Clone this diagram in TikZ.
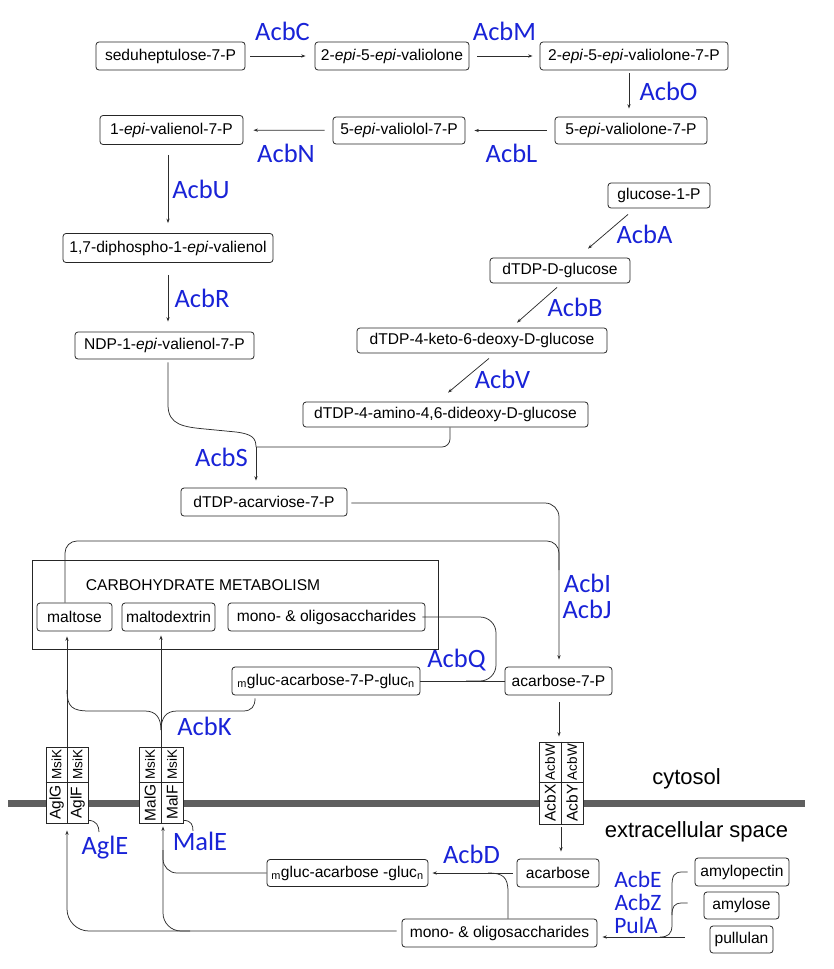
\documentclass[tikz,border=0pt]{standalone}
\usepackage{fontspec}
\setmainfont{Liberation Sans}
\newfontfamily\labfont{Carlito}
\usetikzlibrary{arrows.meta,calc}
\definecolor{enz}{RGB}{25,35,215}
\definecolor{ln}{RGB}{45,45,45}
\definecolor{memb}{RGB}{95,95,95}
\begin{document}
\begin{tikzpicture}[x=1pt,y=-1pt,
  box/.style={draw=black!85, line width=0.8pt, rounded corners=3pt, minimum height=28pt, inner sep=0pt, fill=white, font=\fontsize{15.6}{18}\selectfont},
  conn/.style={draw=ln, line width=0.75pt},
  arr/.style={conn, -{Stealth[length=4.5pt,width=3.2pt]}},
  enzl/.style={anchor=base, text=enz, inner sep=0pt, font=\labfont\fontsize{26.5}{30}\selectfont},
  tbox/.style={draw=black!85, line width=0.8pt, fill=white, inner sep=0pt},
  tsmall/.style={rotate=90, inner sep=0pt, font=\fontsize{13.5}{15}\selectfont},
  tbig/.style={rotate=90, inner sep=0pt, font=\fontsize{15.5}{17}\selectfont},
  cellline/.style={draw=black!85, line width=0.8pt},
  region/.style={anchor=base, inner sep=0pt, font=\fontsize{22}{26}\selectfont},
]
\useasboundingbox (0,0) rectangle (833,969);

% ---------- carbohydrate metabolism frame ----------
\node[draw=black!85, line width=0.8pt, minimum width=406pt, minimum height=89pt, inner sep=0pt] (carbo) at (235,604.5) {};
\node[anchor=base, inner sep=0pt, font=\fontsize{15.6}{18}\selectfont] (carbot) at (203,590) {CARBOHYDRATE METABOLISM};

% ---------- nodes ----------
\node[box, minimum width=149pt] (sedu) at (170.5,56) {seduheptulose-7-P};
\node[box, minimum width=154pt] (v1) at (392,56) {2-\textit{epi}-5-\textit{epi}-valiolone};
\node[box, minimum width=188pt] (v2) at (634,56) {2-\textit{epi}-5-\textit{epi}-valiolone-7-P};
\node[box, minimum width=152pt, minimum height=27pt] (v3) at (631,130.5) {5-\textit{epi}-valiolone-7-P};
\node[box, minimum width=132pt, minimum height=27pt] (v4) at (399,130.5) {5-\textit{epi}-valiolol-7-P};
\node[box, minimum width=143pt, minimum height=29pt] (v5) at (171.5,130) {1-\textit{epi}-valienol-7-P};
\node[box, minimum width=210pt, minimum height=29pt] (v6) at (168,248) {1,7-diphospho-1-\textit{epi}-valienol};
\node[box, minimum width=179pt, minimum height=27pt] (v7) at (164.5,345.5) {NDP-1-\textit{epi}-valienol-7-P};
\node[box, minimum width=102pt, minimum height=25pt] (g1) at (659,195.5) {glucose-1-P};
\node[box, minimum width=140pt, minimum height=25pt] (g2) at (560,270.5) {dTDP-D-glucose};
\node[box, minimum width=250pt, minimum height=25pt] (g3) at (482,340.5) {dTDP-4-keto-6-deoxy-D-glucose};
\node[box, minimum width=285pt, minimum height=25pt] (g4) at (445.5,414.5) {dTDP-4-amino-4,6-dideoxy-D-glucose};
\node[box, minimum width=166pt] (acv) at (264,502) {dTDP-acarviose-7-P};
\node[box, minimum width=75pt] (malt) at (74.5,617) {maltose};
\node[box, minimum width=93pt] (mdex) at (168.5,617) {maltodextrin};
\node[box, minimum width=197pt] (mono1) at (326.5,617) {mono- \& oligosaccharides};
\node[box, minimum width=188pt] (gacp) at (326,681) {\textsubscript{m}gluc-acarbose-7-P-gluc\textsubscript{n}};
\node[box, minimum width=107pt] (a7p) at (558.5,681) {acarbose-7-P};
\node[box, minimum width=82pt] (acb) at (558,873) {acarbose};
\node[box, minimum width=161pt, minimum height=27pt] (gac) at (347.5,873) {\textsubscript{m}gluc-acarbose -gluc\textsubscript{n}};
\node[box, minimum width=195pt] (mono2) at (499.5,933) {mono- \& oligosaccharides};
\node[box, minimum width=94pt] (amyp) at (742,872) {amylopectin};
\node[box, minimum width=75pt, minimum height=27pt] (amyl) at (741.5,905.5) {amylose};
\node[box, minimum width=63pt, minimum height=27pt] (pull) at (741.5,939.5) {pullulan};

% ---------- membrane and transporters ----------
\draw[memb, line width=7pt] (8,803) -- (805,803);
\node[tbox, minimum width=42pt, minimum height=76pt] (t1) at (67,785) {};
\node[tbox, minimum width=44pt, minimum height=76pt] (t2) at (161,785) {};
\node[tbox, minimum width=44pt, minimum height=82pt] (t3) at (561,783) {};
\draw[cellline] ($(t1.west)+(0,-3)$) -- ($(t1.east)+(0,-3)$);
\draw[cellline] (t1.north) -- (t1.south);
\draw[cellline] ($(t2.west)+(0,-3)$) -- ($(t2.east)+(0,-3)$);
\draw[cellline] (t2.north) -- (t2.south);
\draw[cellline] ($(t3.west)+(0,-1)$) -- ($(t3.east)+(0,-1)$);
\draw[cellline] (t3.north) -- (t3.south);
\node[tsmall] (t1a) at (56.5,764.5) {MsiK};
\node[tsmall] (t1b) at (77.5,764.5) {MsiK};
\node[tbig] (t1c) at (56.5,802.5) {AglG};
\node[tbig] (t1d) at (77.5,802.5) {AglF};
\node[tsmall] (t2a) at (150,764.5) {MsiK};
\node[tsmall] (t2b) at (172,764.5) {MsiK};
\node[tbig] (t2c) at (150,802.5) {MalG};
\node[tbig] (t2d) at (172,802.5) {MalF};
\node[tsmall] (t3a) at (550,762) {AcbW};
\node[tsmall] (t3b) at (572,762) {AcbW};
\node[tbig] (t3c) at (550,803) {AcbX};
\node[tbig] (t3d) at (572,803) {AcbY};

\node[region] (cyto) at (686.5,784) {cytosol};
\node[region] (extra) at (696.5,837) {extracellular space};

% ---------- connectors ----------
\draw[arr, shorten <=5pt, shorten >=9pt] (sedu) -- (v1);
\draw[arr, shorten <=8pt, shorten >=7pt] (v1) -- (v2);
\draw[arr] ($(v2.south)+(-5,3)$) -- ($(v3.north)+(-2,-8)$);
\draw[arr, shorten <=8pt, shorten >=9pt] (v3) -- (v4);
\draw[arr, shorten <=8pt, shorten >=10pt] (v4) -- (v5);
\draw[arr] ($(v5.south)+(-3.5,10)$) -- ($(v6.north)+(0,-10)$);
\draw[arr] ($(v6.south)+(0,12)$) -- ($(v7.north)+(3.5,-10)$);
\draw[arr] ($(g1.south)+(-31,6)$) -- ($(g2.north)+(28,-9)$);
\draw[arr] ($(g2.south)+(-3,4)$) -- ($(g3.north)+(35,-5)$);
\draw[arr] ($(g3.south)+(7,5)$) -- ($(g4.north)+(2.5,-9)$);

% AcbS
\coordinate (sj) at (256,447);
\draw[conn] ($(v7.south)+(3.5,3)$) -- (168,405) .. controls (168,425) and (184,427) .. (205,429) -- (236,432) .. controls (252,434) and (256,438) .. (sj);
\draw[conn, rounded corners=8pt] ($(g4.south)+(4.5,0)$) |- (sj);
\draw[arr] (sj) -- ($(acv.north)+(-8,-7)$);

% AcbI / AcbJ
\draw[arr, rounded corners=14pt] ($(acv.east)+(4,1)$) -| ($(a7p.north)+(0.5,-7)$);
\coordinate (mj) at (559,570);
\draw[conn, rounded corners=12pt] ($(malt.north)+(-9.5,0)$) -- (65,541) -- (559,541) -- (mj);

% transport into cell
\draw[arr, shorten >=5pt] (t1.north) -- (t1.north |- malt.south);
\draw[arr, shorten >=4pt] (t2.north) -- (t2.north |- mdex.south);

% AcbK brace
\coordinate (kl) at (67,690);
\coordinate (kj) at (161,730);
\draw[conn] (kl) .. controls (67,707) and (72,711) .. (90,711) -- (145,711) .. controls (156,711) and (161,718) .. (kj);
\draw[conn] (kj) .. controls (161,718) and (166,711) .. (177,711) -- (243,711) .. controls (252,711) and (255,706) .. ($(gacp.south)+(-71,3)$);

% AcbQ
\draw[conn] (gacp.east) -- (a7p.west);
\draw[conn, rounded corners=16pt] ($(mono1.east)+(-3,0)$) -- (496,617) -- (496,681) -- (466,681);

% acarbose export
\draw[arr] ($(a7p.south)+(0.5,7)$) -- ($(t3.north)+(-2,-5)$);
\draw[arr] ($(t3.south)+(0,3)$) -- ($(acb.north)+(3,-7)$);
\draw[arr, shorten <=4pt, shorten >=4pt] (acb) -- (gac);
\draw[conn] ($(mono2.north)+(8.5,0)$) -- (508,892) .. controls (508,877) and (503,873) .. (488,873);

% AcbE / AcbZ / PulA
\draw[arr] ($(pull.west)+(-25,-2.5)$) -- ($(mono2.east)+(5,4)$);
\draw[conn] ($(amyp.west)+(-7,0)$) -- (682,872) .. controls (674,872) and (672,876) .. (672,886) -- (672,925) .. controls (672,934) and (668,937) .. (660,937);
\draw[conn] ($(amyl.west)+(-16,-2.5)$) -- (682,903) .. controls (674,903) and (672,907) .. (672,915);

% uptake
\draw[arr, rounded corners=22pt] ($(mono2.west)+(-5,-2)$) -| ($(t1.south)+(0,7)$);
\coordinate (bj) at (190,931);
\draw[arr, rounded corners=18pt] (bj) -| ($(t2.south)+(2,3)$);
\draw[conn, rounded corners=14pt] (gac.west) -| (163,850);

% binding-protein tails
\draw[conn] ($(t1.south east)+(0,-3)$) .. controls +(8,0) and +(0,-6) .. (99,832);
\draw[conn] ($(t2.south east)+(0,-3)$) .. controls +(8,0) and +(0,-6) .. (193,831);

% ---------- enzyme labels ----------
\node[enzl] (lC) at (282.5,40) {AcbC};
\node[enzl] (lM) at (504.5,40) {AcbM};
\node[enzl] (lO) at (668.5,100) {AcbO};
\node[enzl] (lL) at (511.5,162) {AcbL};
\node[enzl] (lN) at (286,162) {AcbN};
\node[enzl] (lU) at (201,198) {AcbU};
\node[enzl] (lR) at (202,307) {AcbR};
\node[enzl] (lA) at (644.5,243) {AcbA};
\node[enzl] (lB) at (575,316) {AcbB};
\node[enzl] (lV) at (502.5,388) {AcbV};
\node[enzl] (lS) at (221.5,466) {AcbS};
\node[enzl] (lI) at (587.5,592) {AcbI};
\node[enzl] (lJ) at (587,618) {AcbJ};
\node[enzl] (lQ) at (456.5,667) {AcbQ};
\node[enzl] (lK) at (204.5,735) {AcbK};
\node[enzl] (lAglE) at (105,854) {AglE};
\node[enzl] (lMalE) at (200,850) {MalE};
\node[enzl] (lD) at (471.5,863) {AcbD};
\node[enzl, font=\labfont\fontsize{23.5}{26}\selectfont] (lE) at (638,887) {AcbE};
\node[enzl, font=\labfont\fontsize{23.5}{26}\selectfont] (lZ) at (638,910) {AcbZ};
\node[enzl, font=\labfont\fontsize{23.5}{26}\selectfont] (lP) at (636,933) {PulA};
\end{tikzpicture}
\end{document}
